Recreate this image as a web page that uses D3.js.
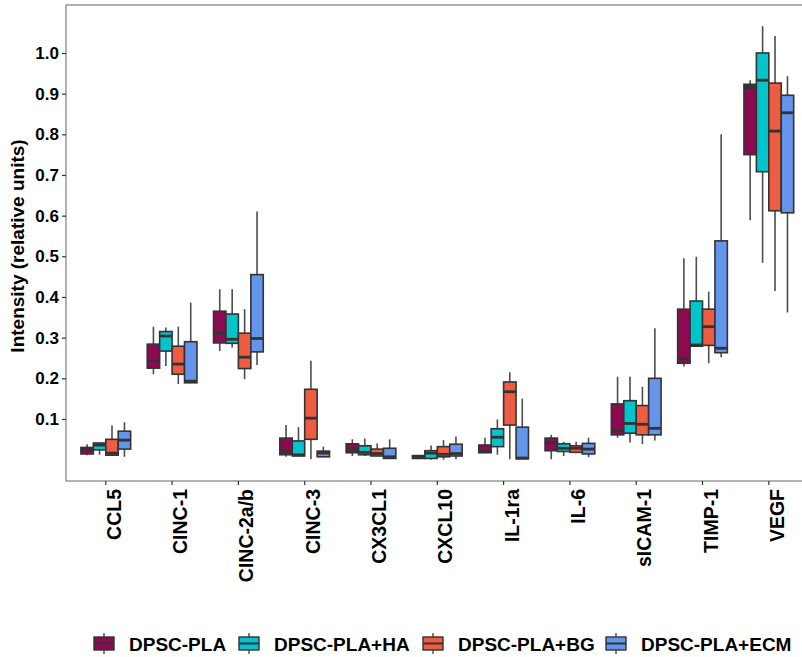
<!DOCTYPE html>
<html>
<head>
  <script src="https://d3js.org/d3.v7.min.js"></script>
  <style>
    body { margin: 0; background: #fff; }
    text { font-family: "Liberation Sans", Arial, sans-serif; font-weight: bold; }
  </style>
</head>
<body>
  <svg width="802" height="657"></svg>
  <script>
    const categories = ["CCL5", "CINC-1", "CINC-2a/b", "CINC-3", "CX3CL1", "CXCL10", "IL-1ra", "IL-6", "sICAM-1", "TIMP-1", "VEGF"];
    const groups = ["DPSC-PLA", "DPSC-PLA+HA", "DPSC-PLA+BG", "DPSC-PLA+ECM"];
    const groupColors = ["#8B0A50", "#00C5CD", "#EE5C42", "#6495ED"];
    const yTicks = [0.1, 0.2, 0.3, 0.4, 0.5, 0.6, 0.7, 0.8, 0.9, 1.0];

    // [lower whisker, q1, median, q3, upper whisker] per category
    const plaStats = [
      [0.011, 0.014, 0.026, 0.030, 0.038],
      [0.210, 0.225, 0.243, 0.284, 0.327],
      [0.267, 0.287, 0.311, 0.365, 0.419],
      [0.007, 0.012, 0.021, 0.053, 0.085],
      [0.009, 0.017, 0.026, 0.039, 0.050],
      [0.001, 0.003, 0.006, 0.010, 0.011],
      [0.017, 0.017, 0.020, 0.036, 0.054],
      [0.001, 0.022, 0.042, 0.053, 0.061],
      [0.054, 0.061, 0.071, 0.137, 0.204],
      [0.229, 0.237, 0.249, 0.370, 0.495],
      [0.589, 0.750, 0.915, 0.923, 0.933]
    ];
    const haStats = [
      [0.012, 0.024, 0.036, 0.041, 0.041],
      [0.230, 0.267, 0.304, 0.315, 0.325],
      [0.276, 0.286, 0.296, 0.358, 0.419],
      [0.009, 0.009, 0.012, 0.046, 0.080],
      [0.009, 0.012, 0.018, 0.034, 0.052],
      [0.000, 0.003, 0.016, 0.022, 0.035],
      [0.012, 0.032, 0.055, 0.076, 0.099],
      [0.009, 0.020, 0.028, 0.039, 0.044],
      [0.042, 0.065, 0.089, 0.145, 0.204],
      [0.279, 0.279, 0.282, 0.390, 0.499],
      [0.484, 0.708, 0.933, 1.000, 1.066]
    ];
    const bgStats = [
      [0.011, 0.011, 0.016, 0.050, 0.084],
      [0.186, 0.210, 0.235, 0.279, 0.327],
      [0.198, 0.224, 0.252, 0.311, 0.370],
      [0.001, 0.050, 0.102, 0.173, 0.243],
      [0.009, 0.009, 0.015, 0.026, 0.040],
      [0.000, 0.007, 0.013, 0.032, 0.048],
      [0.001, 0.085, 0.167, 0.191, 0.215],
      [0.016, 0.018, 0.028, 0.034, 0.044],
      [0.038, 0.061, 0.087, 0.133, 0.179],
      [0.237, 0.281, 0.327, 0.370, 0.413],
      [0.415, 0.612, 0.808, 0.926, 1.042]
    ];
    const ecmStats = [
      [0.007, 0.026, 0.048, 0.070, 0.092],
      [0.189, 0.189, 0.193, 0.290, 0.386],
      [0.233, 0.265, 0.298, 0.455, 0.610],
      [0.007, 0.007, 0.016, 0.021, 0.032],
      [0.003, 0.003, 0.007, 0.028, 0.050],
      [0.001, 0.009, 0.015, 0.038, 0.057],
      [0.002, 0.002, 0.004, 0.080, 0.150],
      [0.006, 0.014, 0.026, 0.040, 0.054],
      [0.047, 0.061, 0.077, 0.200, 0.323],
      [0.252, 0.263, 0.274, 0.538, 0.800],
      [0.362, 0.607, 0.853, 0.896, 0.943]
    ];
    const allStats = [plaStats, haStats, bgStats, ecmStats];

    const panel = { left: 66, top: 5, bottom: 481, right: 808.6 };
    const svg = d3.select("svg");

    const x = d3.scaleBand()
      .domain(categories)
      .range([panel.left, panel.right])
      .paddingInner(0)
      .paddingOuter(0.1);
    const xGroup = d3.scaleBand()
      .domain(groups)
      .range([-0.375 * x.step(), 0.375 * x.step()]);
    const y = d3.scaleLinear()
      .domain([-0.0525, 1.118])
      .range([panel.bottom, panel.top]);

    // flatten into box records
    const boxes = [];
    groups.forEach((g, gi) => {
      categories.forEach((c, ci) => {
        const s = allStats[gi][ci];
        boxes.push({ cat: c, group: g, color: groupColors[gi], lo: s[0], q1: s[1], med: s[2], q3: s[3], hi: s[4] });
      });
    });

    const plot = svg.append("g");
    const cx = d => x(d.cat) + x.bandwidth() / 2 + xGroup(d.group) + xGroup.bandwidth() / 2;
    const bw = xGroup.bandwidth();

    // whiskers
    plot.selectAll(".whisker")
      .data(boxes)
      .enter()
      .append("line")
      .attr("x1", cx).attr("x2", cx)
      .attr("y1", d => y(d.hi))
      .attr("y2", d => y(d.lo))
      .attr("stroke", "#4d4d4d")
      .attr("stroke-width", 1.6);

    // boxes
    plot.selectAll(".box")
      .data(boxes)
      .enter()
      .append("rect")
      .attr("x", d => cx(d) - bw / 2)
      .attr("width", bw)
      .attr("y", d => y(d.q3))
      .attr("height", d => Math.max(0.5, y(d.q1) - y(d.q3)))
      .attr("fill", d => d.color)
      .attr("stroke", "#333333")
      .attr("stroke-width", 1.6);

    // medians
    plot.selectAll(".median")
      .data(boxes)
      .enter()
      .append("line")
      .attr("x1", d => cx(d) - bw / 2)
      .attr("x2", d => cx(d) + bw / 2)
      .attr("y1", d => y(d.med))
      .attr("y2", d => y(d.med))
      .attr("stroke", "#333333")
      .attr("stroke-width", 2.8);

    // panel border (right side falls outside the picture)
    svg.append("rect")
      .attr("x", panel.left)
      .attr("y", panel.top)
      .attr("width", panel.right - panel.left)
      .attr("height", panel.bottom - panel.top)
      .attr("fill", "none")
      .attr("stroke", "#7f7f7f")
      .attr("stroke-width", 1.2);

    // y axis
    const yAxis = svg.append("g")
      .attr("transform", "translate(" + panel.left + ",0)")
      .call(d3.axisLeft(y).tickValues(yTicks).tickFormat(d3.format(".1f")).tickSize(4).tickPadding(3));
    yAxis.select(".domain").remove();
    yAxis.selectAll(".tick line").attr("stroke", "#333").attr("stroke-width", 1.2);
    yAxis.selectAll(".tick text")
      .attr("fill", "#000")
      .style("font-size", "17px")
      .style("font-family", "'Liberation Sans', Arial, sans-serif")
      .style("font-weight", "bold");

    // x axis
    const xAxis = svg.append("g")
      .attr("transform", "translate(0," + panel.bottom + ")")
      .call(d3.axisBottom(x).tickSize(4).tickFormat(""));
    xAxis.select(".domain").remove();
    xAxis.selectAll(".tick line").attr("stroke", "#333").attr("stroke-width", 1.2);

    svg.append("g").selectAll("text")
      .data(categories)
      .enter()
      .append("text")
      .attr("transform", d => "translate(" + (x(d) + x.bandwidth() / 2 + 15) + "," + (panel.bottom + 8) + ") rotate(-90)")
      .attr("text-anchor", "end")
      .style("font-size", "19.5px")
      .attr("fill", "#000")
      .text(d => d);

    // y title
    svg.append("text")
      .attr("transform", "translate(24," + ((panel.top + panel.bottom) / 2 + 3) + ") rotate(-90)")
      .attr("text-anchor", "middle")
      .style("font-size", "19px")
      .attr("fill", "#000")
      .text("Intensity (relative units)");

    // legend
    const legendX = [94, 239, 423, 606];
    const legend = svg.append("g").selectAll("g")
      .data(groups)
      .enter()
      .append("g")
      .attr("transform", (d, i) => "translate(" + legendX[i] + ",633)");
    legend.append("line")
      .attr("x1", 10).attr("x2", 10).attr("y1", 0).attr("y2", 21)
      .attr("stroke", "#4d4d4d").attr("stroke-width", 1.4);
    legend.append("rect")
      .attr("x", 0).attr("y", 4).attr("width", 20).attr("height", 13)
      .attr("fill", (d, i) => groupColors[i])
      .attr("stroke", "#333").attr("stroke-width", 1.4);
    legend.append("line")
      .attr("x1", 0).attr("x2", 20).attr("y1", 10.5).attr("y2", 10.5)
      .attr("stroke", "#333").attr("stroke-width", 2);
    legend.append("text")
      .attr("x", 35)
      .attr("y", 17.5)
      .style("font-size", "19px")
      .attr("fill", "#000")
      .text(d => d);
  </script>
</body>
</html>
